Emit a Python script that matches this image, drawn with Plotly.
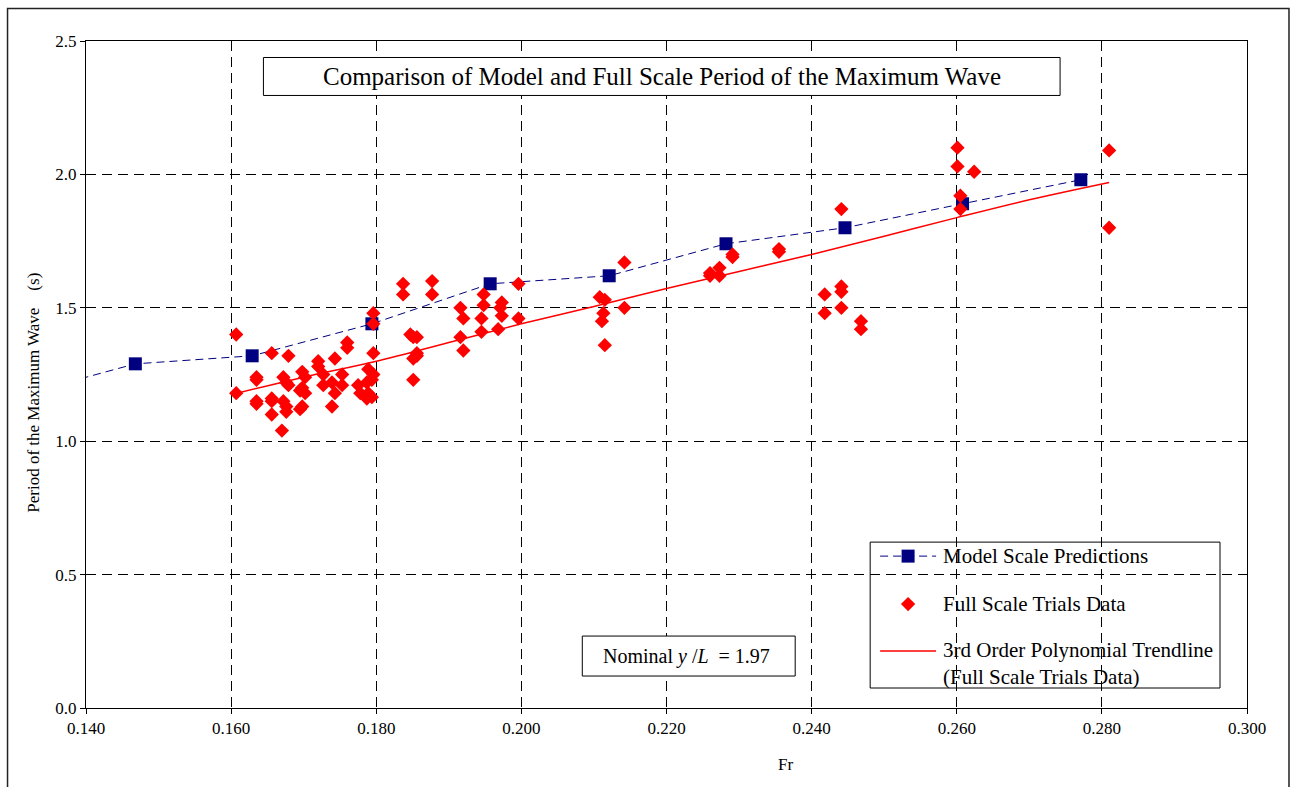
import plotly.graph_objects as go

# Model scale predictions (Froude number vs period of the maximum wave, s)
model_fr = [0.1306, 0.1468, 0.1629, 0.1794, 0.1957, 0.2121, 0.2282, 0.2446, 0.2608, 0.2771]
model_t = [1.17, 1.29, 1.32, 1.44, 1.59, 1.62, 1.74, 1.80, 1.89, 1.98]

# Full scale trials data
trial_fr = [
    0.1607, 0.1607,
    0.1635, 0.1635, 0.1635, 0.1635,
    0.1656, 0.1656, 0.1656, 0.1656,
    0.1672, 0.1672, 0.1676, 0.1676, 0.1676, 0.1670,
    0.1679, 0.1679,
    0.1698, 0.1698, 0.1698, 0.1695, 0.1695, 0.1702, 0.1702,
    0.1720, 0.1720, 0.1727, 0.1727, 0.1739, 0.1739, 0.1743, 0.1743,
    0.1753, 0.1753, 0.1760, 0.1760, 0.1775, 0.1778,
    0.1787, 0.1787, 0.1789, 0.1789, 0.1794, 0.1794,
    0.1796, 0.1796, 0.1796, 0.1796,
    0.1837, 0.1837, 0.1847, 0.1851, 0.1851, 0.1856, 0.1856, 0.1856, 0.1851,
    0.1877, 0.1877,
    0.1916, 0.1916, 0.1920, 0.1920, 0.1945, 0.1945, 0.1948, 0.1948,
    0.1968, 0.1971, 0.1973, 0.1973, 0.1996, 0.1996,
    0.2108, 0.2115, 0.2115, 0.2113, 0.2111, 0.2142, 0.2142,
    0.2260, 0.2260, 0.2273, 0.2273, 0.2291, 0.2291, 0.2355, 0.2355,
    0.2418, 0.2418, 0.2441, 0.2441, 0.2441, 0.2441, 0.2468, 0.2468,
    0.2601, 0.2601, 0.2605, 0.2605, 0.2624,
    0.2810, 0.2810,
]
trial_t = [
    1.40, 1.18,
    1.24, 1.23, 1.15, 1.14,
    1.33, 1.16, 1.15, 1.10,
    1.24, 1.15, 1.22, 1.13, 1.11, 1.04,
    1.32, 1.21,
    1.26, 1.20, 1.13, 1.19, 1.12, 1.24, 1.18,
    1.30, 1.28, 1.25, 1.21, 1.22, 1.13, 1.31, 1.18,
    1.25, 1.21, 1.37, 1.35, 1.21, 1.18,
    1.22, 1.16, 1.27, 1.18, 1.23, 1.165,
    1.25, 1.33, 1.48, 1.44,
    1.59, 1.55, 1.40, 1.39, 1.31, 1.39, 1.33, 1.32, 1.23,
    1.60, 1.55,
    1.50, 1.39, 1.46, 1.34, 1.46, 1.41, 1.55, 1.51,
    1.42, 1.50, 1.52, 1.47, 1.59, 1.46,
    1.54, 1.53, 1.36, 1.48, 1.45, 1.67, 1.50,
    1.63, 1.62, 1.65, 1.62, 1.70, 1.69, 1.72, 1.71,
    1.55, 1.48, 1.87, 1.58, 1.56, 1.50, 1.45, 1.42,
    2.10, 2.03, 1.92, 1.87, 2.01,
    2.09, 1.80,
]

# 3rd order polynomial trendline through the trials data
trend_fr = [0.1607, 0.170, 0.180, 0.190, 0.200, 0.210, 0.220, 0.230, 0.240, 0.250, 0.260, 0.270, 0.2810]
trend_t = [1.179, 1.24, 1.30, 1.37, 1.44, 1.505, 1.572, 1.636, 1.70, 1.768, 1.838, 1.905, 1.970]

x_ticks = [0.14, 0.16, 0.18, 0.20, 0.22, 0.24, 0.26, 0.28, 0.30]
y_ticks = [0.0, 0.5, 1.0, 1.5, 2.0, 2.5]

SERIF = "Liberation Serif, Times New Roman, serif"
NAVY = "#000080"
RED = "#ff0000"

fig = go.Figure()

fig.add_trace(go.Scatter(
    x=model_fr, y=model_t, mode="lines+markers", name="Model Scale Predictions",
    line=dict(color=NAVY, width=1, dash="8px,5px"),
    marker=dict(symbol="square", size=13, color=NAVY),
    showlegend=False, hoverinfo="skip",
))
fig.add_trace(go.Scatter(
    x=trial_fr, y=trial_t, mode="markers", name="Full Scale Trials Data",
    marker=dict(symbol="diamond", size=11, color=RED),
    showlegend=False, hoverinfo="skip",
))
fig.add_trace(go.Scatter(
    x=trend_fr, y=trend_t, mode="lines", name="3rd Order Polynomial Trendline",
    line=dict(color=RED, width=1.5, shape="spline"),
    showlegend=False, hoverinfo="skip",
))

# Hand-built legend symbols on an overlay axis spanning the plot area (0..1)
lx0, lx1, lxm = 0.6840, 0.7322, 0.7081
ly_model, ly_trial, ly_trend = 0.2277, 0.1558, 0.0854
fig.add_trace(go.Scatter(
    x=[lx0, lx1], y=[ly_model, ly_model], mode="lines", xaxis="x2", yaxis="y2",
    line=dict(color=NAVY, width=1, dash="8px,5px"), showlegend=False, hoverinfo="skip",
))
fig.add_trace(go.Scatter(
    x=[lxm], y=[ly_model], mode="markers", xaxis="x2", yaxis="y2",
    marker=dict(symbol="square", size=13, color=NAVY), showlegend=False, hoverinfo="skip",
))
fig.add_trace(go.Scatter(
    x=[lxm], y=[ly_trial], mode="markers", xaxis="x2", yaxis="y2",
    marker=dict(symbol="diamond", size=11, color=RED), showlegend=False, hoverinfo="skip",
))
fig.add_trace(go.Scatter(
    x=[lx0, lx1], y=[ly_trend, ly_trend], mode="lines", xaxis="x2", yaxis="y2",
    line=dict(color=RED, width=1.5), showlegend=False, hoverinfo="skip",
))

axis_common = dict(
    showline=True, linecolor="black", linewidth=1, mirror=True,
    ticks="outside", ticklen=5, tickcolor="black",
    showgrid=True, gridcolor="black", gridwidth=1, griddash="10px,6px",
    zeroline=False, tickfont=dict(family=SERIF, size=17, color="black"),
)

fig.update_layout(
    width=1294, height=787,
    margin=dict(l=85.5, r=47, t=40.5, b=79),
    paper_bgcolor="white", plot_bgcolor="white",
    font=dict(family=SERIF, color="black"),
    xaxis=dict(range=[0.14, 0.30], tickvals=x_ticks, tickformat=".3f", **axis_common),
    yaxis=dict(range=[0, 2.5], tickvals=y_ticks, tickformat=".1f", **axis_common),
    xaxis2=dict(overlaying="x", range=[0, 1], visible=False, fixedrange=True),
    yaxis2=dict(overlaying="y", range=[0, 1], visible=False, fixedrange=True),
)

def px_x(p):
    return (p - 85.5) / 1161.5

def px_y(p):
    return (708 - p) / 667.5

shapes = [
    # outer chart frame
    dict(type="rect", xref="paper", yref="paper",
         x0=px_x(7), x1=px_x(1289), y0=px_y(820), y1=px_y(8),
         line=dict(color="#222", width=1.5), fillcolor="rgba(0,0,0,0)", layer="above"),
    # title box
    dict(type="rect", xref="paper", yref="paper",
         x0=px_x(263), x1=px_x(1060), y0=px_y(95), y1=px_y(57),
         line=dict(color="black", width=1), fillcolor="white", layer="above"),
    # nominal y/L box
    dict(type="rect", xref="paper", yref="paper",
         x0=px_x(582), x1=px_x(795), y0=px_y(676), y1=px_y(636),
         line=dict(color="black", width=1), fillcolor="white", layer="above"),
    # legend box
    dict(type="rect", xref="paper", yref="paper",
         x0=px_x(870), x1=px_x(1220), y0=px_y(688), y1=px_y(542),
         line=dict(color="black", width=1), fillcolor="white", layer="below"),
]
fig.update_layout(shapes=shapes)

annotations = [
    dict(text="Comparison of Model and Full Scale Period of the Maximum Wave",
         x=px_x(661.5), y=px_y(76), xref="paper", yref="paper",
         showarrow=False, font=dict(family=SERIF, size=25, color="black"),
         xanchor="center", yanchor="middle"),
    dict(text="Nominal <i>y</i> /<i>L</i>  = 1.97",
         x=px_x(686), y=px_y(656), xref="paper", yref="paper",
         showarrow=False, font=dict(family=SERIF, size=20, color="black"),
         xanchor="center", yanchor="middle"),
    dict(text="Model Scale Predictions", x=px_x(941), y=px_y(556),
         xref="paper", yref="paper", showarrow=False, xanchor="left", yanchor="middle",
         font=dict(family=SERIF, size=21, color="black")),
    dict(text="Full Scale Trials Data", x=px_x(941), y=px_y(604),
         xref="paper", yref="paper", showarrow=False, xanchor="left", yanchor="middle",
         font=dict(family=SERIF, size=21, color="black")),
    dict(text="3rd Order Polynomial Trendline<br>(Full Scale Trials Data)",
         x=px_x(941), y=px_y(663.5), xref="paper", yref="paper", showarrow=False,
         xanchor="left", yanchor="middle", align="left",
         font=dict(family=SERIF, size=21, color="black")),
    # axis titles
    dict(text="Period of the Maximum Wave\u00a0\u00a0\u00a0\u00a0(s)",
         x=px_x(33), y=px_y(393), xref="paper", yref="paper", showarrow=False,
         textangle=-90, xanchor="center", yanchor="middle",
         font=dict(family=SERIF, size=17, color="black")),
    dict(text="Fr", x=px_x(785), y=px_y(765), xref="paper", yref="paper",
         showarrow=False, xanchor="center", yanchor="middle",
         font=dict(family=SERIF, size=17, color="black")),
]
fig.update_layout(annotations=annotations)

fig.write_html("out.html")
